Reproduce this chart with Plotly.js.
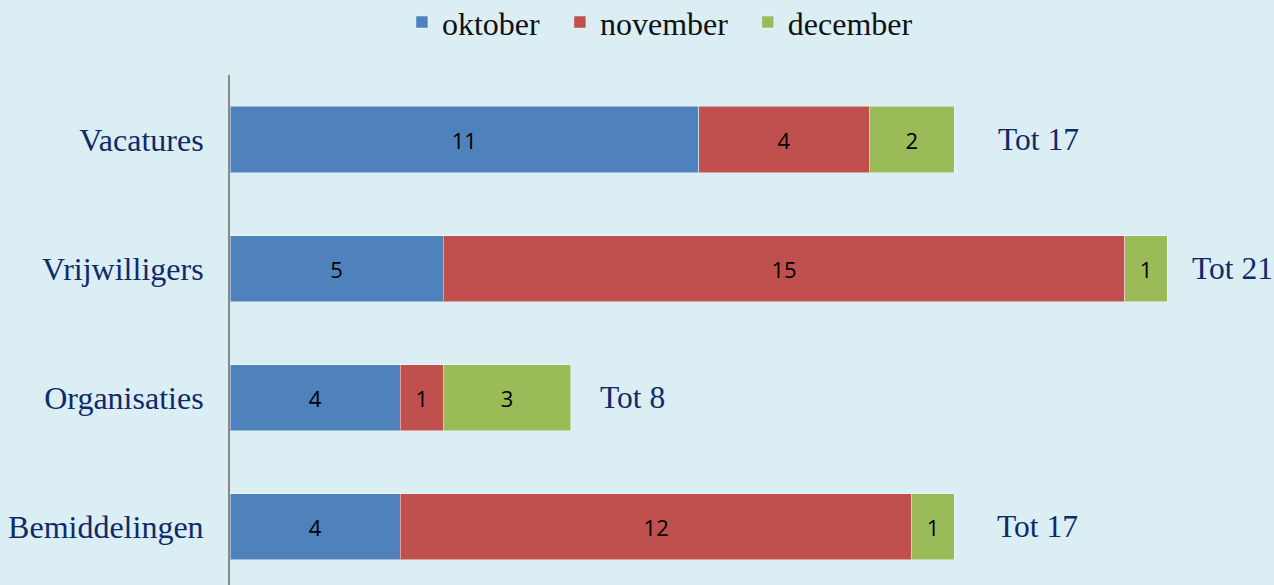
<!DOCTYPE html>
<html>
<head>
<meta charset="utf-8">
<script src="https://cdn.plot.ly/plotly-3.0.1.min.js"></script>
<style>
  html, body { margin: 0; padding: 0; background: #DBEEF4; }
  #chart { width: 1274px; height: 585px; }
</style>
</head>
<body>
<div id="chart"></div>
<script>
// ---- data ----
const categories = ['Vacatures', 'Vrijwilligers', 'Organisaties', 'Bemiddelingen'];
const oktober = [11, 5, 4, 4];
const november = [4, 16, 1, 12];          // bar lengths as drawn
const novemberLabels = ['4', '15', '1', '12'];  // labels as printed
const december = [2, 1, 3, 1];
const totals = [17, 21, 8, 17];
const seriesNames = ['oktober', 'november', 'december'];

// ---- style ----
const colors = ['#4F81BD', '#C0504D', '#9BBB59'];
const serif = '"Liberation Serif", "Times New Roman", serif';
const sans = '"Open Sans", sans-serif';
const navy = '#0F2A6B';
const totalShift = [42, 23, 27, 41];
const legendIds = ['legend', 'legend2', 'legend3'];
const legendLeft = [0.3155, 0.4395, 0.5870];

function barTrace(idx, vals, labels) {
  return {
    type: 'bar',
    orientation: 'h',
    name: seriesNames[idx],
    legend: legendIds[idx],
    y: categories,
    x: vals,
    text: labels,
    textposition: 'inside',
    insidetextanchor: 'middle',
    textangle: 0,
    constraintext: 'none',
    textfont: { family: sans, size: 22, color: '#000000' },
    marker: { color: colors[idx], line: { color: 'rgba(255,255,255,0.45)', width: 1 } },
    hoverinfo: 'none'
  };
}

const traces = [
  barTrace(0, oktober, oktober.map(String)),
  barTrace(1, november, novemberLabels),
  barTrace(2, december, december.map(String))
];

const annotations = categories.map((c, i) => ({
  x: oktober[i] + november[i] + december[i],
  y: c,
  xref: 'x', yref: 'y',
  xanchor: 'left', yanchor: 'middle',
  xshift: totalShift[i],
  text: 'Tot ' + totals[i],
  showarrow: false,
  font: { family: serif, size: 31.5, color: navy }
}));

function legendStyle(i) {
  return {
    orientation: 'h',
    x: legendLeft[i], xref: 'container', xanchor: 'left',
    y: 0.962, yref: 'container', yanchor: 'middle',
    font: { family: serif, size: 32, color: '#111111' },
    bgcolor: 'rgba(0,0,0,0)'
  };
}

const layout = {
  width: 1274,
  height: 585,
  margin: { l: 230, r: 0, t: 75, b: 0 },
  paper_bgcolor: '#DBEEF4',
  plot_bgcolor: '#DBEEF4',
  barmode: 'stack',
  bargap: 0.488,
  showlegend: true,
  legend: legendStyle(0),
  legend2: legendStyle(1),
  legend3: legendStyle(2),
  xaxis: {
    range: [0, 24.5],
    visible: false,
    fixedrange: true
  },
  yaxis: {
    type: 'category',
    range: [3.453, -0.5],
    showline: true,
    linecolor: '#888888',
    linewidth: 2,
    showgrid: false,
    zeroline: false,
    ticks: '',
    ticklabelstandoff: 18,
    tickfont: { family: serif, size: 32, color: navy },
    fixedrange: true
  },
  annotations: annotations
};

Plotly.newPlot('chart', traces, layout, { displayModeBar: false, staticPlot: true });
</script>
</body>
</html>
